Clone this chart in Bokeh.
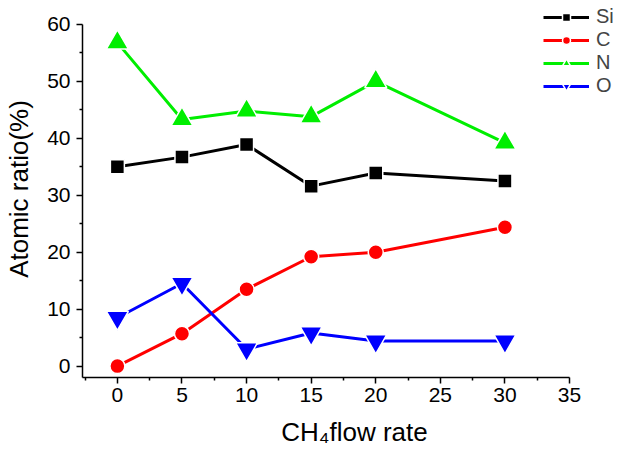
from bokeh.plotting import figure
from bokeh.models import Range1d, FixedTicker, Legend, LegendItem
from bokeh.embed import file_html
from bokeh.resources import INLINE

flow = [0, 5, 10, 15, 20, 30]
si = [35.0, 36.7, 38.9, 31.6, 33.9, 32.5]
c = [0.0, 5.7, 13.5, 19.2, 20.0, 24.4]
n = [56.8, 43.3, 44.8, 43.8, 50.0, 39.2]
o = [8.5, 14.5, 3.0, 5.8, 4.4, 4.4]
x_ticks = [0, 5, 10, 15, 20, 25, 30, 35]
y_ticks = [0, 10, 20, 30, 40, 50, 60]

p = figure(width=626, height=450, output_backend="svg", toolbar_location=None,
           x_range=Range1d(-2.7, 39.41), y_range=Range1d(-2, 64.2),
           min_border_left=82, min_border_right=0, min_border_top=0, min_border_bottom=73)
p.outline_line_color = None
p.grid.visible = False
p.background_fill_color = "white"

font = "Liberation Sans"
for ax in (p.xaxis[0], p.yaxis[0]):
    ax.axis_line_width = 1.5
    ax.axis_line_color = "black"
    ax.major_tick_line_width = 1.5
    ax.minor_tick_line_width = 1.5
    ax.major_tick_out = 6
    ax.major_tick_in = 0
    ax.minor_tick_out = 3
    ax.minor_tick_in = 0
    ax.major_label_text_font = font
    ax.major_label_text_font_size = "21px"
    ax.major_label_text_color = "black"
    ax.axis_label_text_font = font
    ax.axis_label_text_font_size = "26px"
    ax.axis_label_text_font_style = "normal"
    ax.axis_label_text_color = "black"

p.xaxis[0].bounds = (-2.7, 35)
p.yaxis[0].bounds = (-2, 60)
p.xaxis[0].ticker = FixedTicker(ticks=x_ticks, minor_ticks=[-2.5 + 5 * i for i in range(8)])
p.yaxis[0].ticker = FixedTicker(ticks=y_ticks, minor_ticks=[5 + 10 * i for i in range(6)])
p.xaxis[0].axis_label = "CH\u2084flow rate"
p.yaxis[0].axis_label = "Atomic ratio(%)"
p.xaxis[0].major_label_standoff = 4
p.yaxis[0].major_label_standoff = 6
p.xaxis[0].axis_label_standoff = 12
p.yaxis[0].axis_label_standoff = 10

series = [
    ("Si", si, "black", "square", 14),
    ("C", c, "red", "circle", 15),
    ("N", n, "#00ee00", "triangle", 22),
    ("O", o, "blue", "inverted_triangle", 22),
]
items = []
for name, ys, col, mk, sz in series:
    ln = p.line(flow, ys, line_color=col, line_width=3)
    sc = p.scatter(flow, ys, marker=mk, size=sz, fill_color=col, line_color="white", line_width=1.5)
    items.append(LegendItem(label=name, renderers=[ln, sc]))

leg = Legend(items=items, location=(461, 280))
leg.background_fill_alpha = 0
leg.border_line_color = None
leg.label_text_font = font
leg.label_text_font_size = "20px"
leg.label_text_line_height = 1.0
leg.glyph_width = 46
leg.glyph_height = 20
leg.spacing = 0
leg.padding = 0
leg.margin = 0
leg.label_standoff = 7
leg.label_height = 20
p.add_layout(leg, "center")

open("out.html", "w").write(file_html(p, INLINE))
